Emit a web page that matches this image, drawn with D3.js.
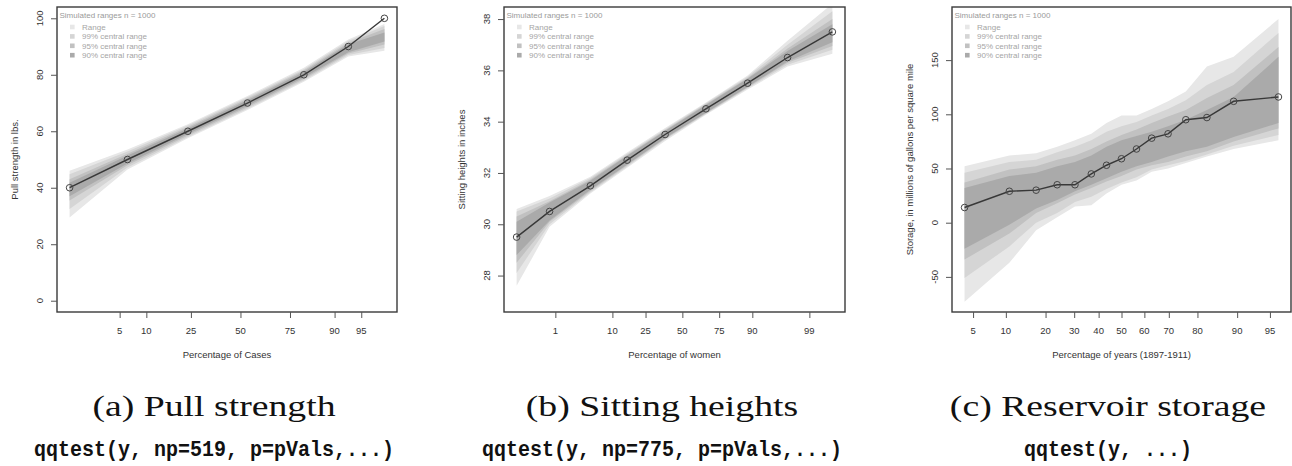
<!DOCTYPE html>
<html>
<head>
<meta charset="utf-8">
<script src="https://cdn.jsdelivr.net/npm/d3@7"></script>
<style>
  html, body { margin: 0; padding: 0; background: #fff; }
  svg { display: block; }
</style>
</head>
<body>
<svg id="fig" width="1292" height="466"></svg>
<script>
// ---------- (a) Pull strength ----------
const pullPct   = [1.0, 6.2, 23.7, 53.8, 80.6, 92.9, 97.5];
const pullLbs   = [40, 50, 60, 70, 80, 90, 100];
const pullRange = [[29.5,46],[46.5,53.5],[57.5,62.5],[67.5,72.5],[77.5,82.5],[86.5,92.5],[88.5,98]];
const pull99    = [[32.5,44.8],[47.2,52.8],[58,62],[68,72],[78,82],[87,92],[89.5,97.3]];
const pull95    = [[35.5,43],[48,52],[58.5,61.5],[68.5,71.5],[78.5,81.5],[87.5,91.3],[90.7,96.2]];
const pull90    = [[37,41.8],[48.6,51.4],[59,61],[69,71],[79,81],[88,90.8],[91.8,95]];
const pullXTicks = [5, 10, 25, 50, 75, 90, 95];
const pullYTicks = [0, 20, 40, 60, 80, 100];
const pullYLim   = [-4, 104];

// ---------- (b) Sitting heights ----------
const sitPct   = [0.12, 0.75, 4.6, 15.6, 37.6, 66.7, 88.4, 97.3, 99.7];
const sitIn    = [29.5, 30.5, 31.5, 32.5, 33.5, 34.5, 35.5, 36.5, 37.5];
const sitRange = [[27.6,30.6],[29.9,31.1],[31.2,31.85],[32.2,32.8],[33.25,33.75],[34.27,34.75],[35.25,35.8],[36.15,37.15],[36.65,38.6]];
const sit99    = [[28.1,30.5],[30.0,31.0],[31.25,31.8],[32.25,32.75],[33.3,33.7],[34.3,34.72],[35.3,35.75],[36.22,37.0],[36.8,38.3]];
const sit95    = [[28.5,30.3],[30.1,30.9],[31.3,31.75],[32.3,32.7],[33.33,33.67],[34.33,34.68],[35.33,35.7],[36.3,36.85],[36.95,38.0]];
const sit90    = [[28.8,30.1],[30.15,30.85],[31.35,31.7],[32.33,32.67],[33.36,33.64],[34.35,34.65],[35.36,35.67],[36.35,36.75],[37.1,37.8]];
const sitXTicks = [1, 10, 25, 50, 75, 90, 99];
const sitYTicks = [28, 30, 32, 34, 36, 38];
const sitYLim   = [26.58, 38.47];

// ---------- (c) Reservoir storage ----------
const resPct   = [4.1, 10.7, 17.2, 23.8, 30.3, 36.9, 43.4, 50, 56.6, 63.1, 69.7, 76.2, 82.8, 89.3, 95.9];
const resStore = [14, 29, 30, 35, 35, 45, 53, 59, 68, 78, 82, 95, 97, 112, 116];
const resRange = [[-73,52],[-37,62],[-7,64],[5,70],[15,76],[16,82],[27,92],[35,99],[39,99],[47,105],[50,112],[55,121],[61,144],[68,153],[76,188]];
const res99    = [[-51,46],[-22,56],[0,58],[9,65],[19,70],[24,76],[31,84],[37,89],[42,93],[49,99],[53,105],[57,113],[63,127],[71,139],[81,175]];
const res95    = [[-34,37],[-10,49],[9,52],[18,58],[26,62],[32,68],[38,75],[43,81],[49,86],[53,92],[56,98],[61,104],[66,115],[75,127],[87,162]];
const res90    = [[-24,32],[-2,43],[13,46],[21,52],[29,56],[35,62],[41,70],[47,76],[52,80],[56,84],[61,89],[66,95],[70,104],[79,116],[92,153]];
const resXTicks = [5, 10, 20, 30, 40, 50, 60, 70, 80, 90, 95];
const resYTicks = [-50, 0, 50, 100, 150];
const resYLim   = [-82.4, 199];

// Legend entries and band shades, lightest to darkest
const legendTitle  = "Simulated ranges n = 1000";
const legendLabels = ["Range", "99% central range", "95% central range", "90% central range"];
const bandColors   = ["#e7e7e7", "#d5d5d5", "#c1c1c1", "#aaaaaa"];

// Inverse standard normal CDF (Acklam), used for the probability axis
function qnorm(p) {
  const a = [-3.969683028665376e+01, 2.209460984245205e+02, -2.759285104469687e+02, 1.383577518672690e+02, -3.066479806614716e+01, 2.506628277459239e+00];
  const b = [-5.447609879822406e+01, 1.615858368580409e+02, -1.556989798598866e+02, 6.680131188771972e+01, -1.328068155288572e+01];
  const c = [-7.784894002430293e-03, -3.223964580411365e-01, -2.400758277161838e+00, -2.549732539343734e+00, 4.374664141464968e+00, 2.938163982698783e+00];
  const d = [7.784695709041462e-03, 3.224671290700398e-01, 2.445134137142996e+00, 3.754408661907416e+00];
  const pl = 0.02425, ph = 1 - pl;
  let q, r;
  if (p < pl) {
    q = Math.sqrt(-2 * Math.log(p));
    return (((((c[0]*q + c[1])*q + c[2])*q + c[3])*q + c[4])*q + c[5]) / ((((d[0]*q + d[1])*q + d[2])*q + d[3])*q + 1);
  }
  if (p <= ph) {
    q = p - 0.5; r = q * q;
    return (((((a[0]*r + a[1])*r + a[2])*r + a[3])*r + a[4])*r + a[5])*q / (((((b[0]*r + b[1])*r + b[2])*r + b[3])*r + b[4])*r + 1);
  }
  q = Math.sqrt(-2 * Math.log(1 - p));
  return -(((((c[0]*q + c[1])*q + c[2])*q + c[3])*q + c[4])*q + c[5]) / ((((d[0]*q + d[1])*q + d[2])*q + d[3])*q + 1);
}

const svg = d3.select("#fig");
const TOP = 7, BOTTOM = 312;
const SANS = "'Liberation Sans', Arial, Helvetica, sans-serif";

const panels = [
  { left: 57,  right: 397,  pct: pullPct, val: pullLbs, bands: [pullRange, pull99, pull95, pull90],
    xTicks: pullXTicks, yTicks: pullYTicks, yLim: pullYLim,
    xTitle: "Percentage of Cases", yTitle: "Pull strength in lbs.",
    caption: "(a) Pull strength", code: "qqtest(y, np=519, p=pVals,...)", cx: 214 },
  { left: 504, right: 845,  pct: sitPct, val: sitIn, bands: [sitRange, sit99, sit95, sit90],
    xTicks: sitXTicks, yTicks: sitYTicks, yLim: sitYLim,
    xTitle: "Percentage of women", yTitle: "Sitting heights in inches",
    caption: "(b) Sitting heights", code: "qqtest(y, np=775, p=pVals,...)", cx: 662 },
  { left: 952, right: 1291, pct: resPct, val: resStore, bands: [resRange, res99, res95, res90],
    xTicks: resXTicks, yTicks: resYTicks, yLim: resYLim,
    xTitle: "Percentage of years (1897-1911)", yTitle: "Storage, in millions of gallons per square mile",
    caption: "(c) Reservoir storage", code: "qqtest(y, ...)", cx: 1108 }
];

panels.forEach((P, k) => {
  const g = svg.append("g");
  const zs = P.pct.map(p => qnorm(p / 100));
  const [z0, z1] = d3.extent(zs);
  const pad = (z1 - z0) * 0.04;
  const x = d3.scaleLinear().domain([z0 - pad, z1 + pad]).range([P.left, P.right]);
  const y = d3.scaleLinear().domain(P.yLim).range([BOTTOM, TOP]);

  const clipId = "clip" + k;
  g.append("clipPath").attr("id", clipId)
    .append("rect").attr("x", P.left).attr("y", TOP)
    .attr("width", P.right - P.left).attr("height", BOTTOM - TOP);

  // simulated envelope bands
  const plot = g.append("g").attr("clip-path", `url(#${clipId})`);
  P.bands.forEach((band, i) => {
    const area = d3.area()
      .x((d, j) => x(zs[j]))
      .y0(d => y(d[0]))
      .y1(d => y(d[1]));
    plot.append("path").datum(band)
      .attr("d", area).attr("fill", bandColors[i]).attr("stroke", "none");
  });

  // observed quantiles
  const line = d3.line().x((d, j) => x(zs[j])).y(d => y(d));
  plot.append("path").datum(P.val)
    .attr("d", line).attr("fill", "none")
    .attr("stroke", "#383838").attr("stroke-width", 1.4);
  plot.selectAll("circle.pt").data(P.val).enter().append("circle")
    .attr("class", "pt")
    .attr("cx", (d, j) => x(zs[j])).attr("cy", d => y(d)).attr("r", 3.3)
    .attr("fill", "none").attr("stroke", "#444").attr("stroke-width", 1);

  // plot frame
  g.append("rect").attr("x", P.left).attr("y", TOP)
    .attr("width", P.right - P.left).attr("height", BOTTOM - TOP)
    .attr("fill", "none").attr("stroke", "#3a3a3a").attr("stroke-width", 1.4);

  // x axis (probability scale)
  const xa = g.append("g").attr("transform", `translate(0,${BOTTOM})`)
    .call(d3.axisBottom(x).tickValues(P.xTicks.map(t => qnorm(t / 100)))
      .tickSize(6).tickFormat(""));
  xa.select(".domain").remove();
  xa.selectAll(".tick line").attr("stroke", "#555").attr("stroke-width", 1);
  g.selectAll("text.xt").data(P.xTicks).enter().append("text")
    .attr("class", "xt")
    .attr("x", t => x(qnorm(t / 100))).attr("y", 334)
    .attr("text-anchor", "middle")
    .attr("font-family", SANS).attr("font-size", 9.5).attr("fill", "#333")
    .text(t => t);

  // y axis
  const ya = g.append("g").attr("transform", `translate(${P.left},0)`)
    .call(d3.axisLeft(y).tickValues(P.yTicks).tickSize(6).tickFormat(""));
  ya.select(".domain").remove();
  ya.selectAll(".tick line").attr("stroke", "#555").attr("stroke-width", 1);
  g.selectAll("text.yt").data(P.yTicks).enter().append("text")
    .attr("class", "yt")
    .attr("transform", t => `translate(${P.left - 14},${y(t)}) rotate(-90)`)
    .attr("text-anchor", "middle")
    .attr("font-family", SANS).attr("font-size", 9.5).attr("fill", "#333")
    .text(t => t);

  // axis titles
  g.append("text")
    .attr("x", (P.left + P.right) / 2).attr("y", 357.5)
    .attr("text-anchor", "middle")
    .attr("font-family", SANS).attr("font-size", 9.5).attr("fill", "#333")
    .text(P.xTitle);
  g.append("text")
    .attr("transform", `translate(${P.left - 39},${(TOP + BOTTOM) / 2}) rotate(-90)`)
    .attr("text-anchor", "middle")
    .attr("font-family", SANS).attr("font-size", 9.5).attr("fill", "#333")
    .text(P.yTitle);

  // legend
  const lg = g.append("g").attr("transform", `translate(${P.left},0)`);
  lg.append("text").attr("x", 2.5).attr("y", 17.5)
    .attr("font-family", SANS).attr("font-size", 8).attr("fill", "#9a9a9a")
    .text(legendTitle);
  legendLabels.forEach((lab, i) => {
    const ry = 27 + i * 9.4;
    lg.append("rect").attr("x", 13).attr("y", ry - 2.3).attr("width", 4.6).attr("height", 4.6)
      .attr("fill", bandColors[i]);
    lg.append("text").attr("x", 25).attr("y", ry + 2.9)
      .attr("font-family", SANS).attr("font-size", 8).attr("fill", "#a5a5a5")
      .text(lab);
  });

  // sub-figure caption
  g.append("text").attr("class", "cap")
    .attr("x", P.cx).attr("y", 416)
    .attr("text-anchor", "middle")
    .attr("font-family", "'Liberation Serif', 'Times New Roman', serif")
    .attr("font-size", 29).attr("fill", "#111")
    .text(P.caption);
  g.append("text").attr("class", "code")
    .attr("x", P.cx).attr("y", 456)
    .attr("text-anchor", "middle")
    .attr("font-family", "'Liberation Mono', 'Courier New', monospace")
    .attr("font-weight", "bold")
    .attr("font-size", 21.5).attr("fill", "#111")
    .text(P.code);
});

// widen the serif captions to the width of the original typeface
const caps = svg.selectAll("text.cap");
const ref = caps.nodes()[0].getComputedTextLength();
const stretch = 243 / ref;
caps.each(function () {
  const w = this.getComputedTextLength();
  d3.select(this).attr("textLength", w * stretch).attr("lengthAdjust", "spacingAndGlyphs");
});
// typewriter lines keep a 12px character pitch
svg.selectAll("text.code").each(function () {
  const n = this.textContent.length;
  d3.select(this).attr("textLength", n * 12).attr("lengthAdjust", "spacingAndGlyphs");
});
</script>
</body>
</html>
